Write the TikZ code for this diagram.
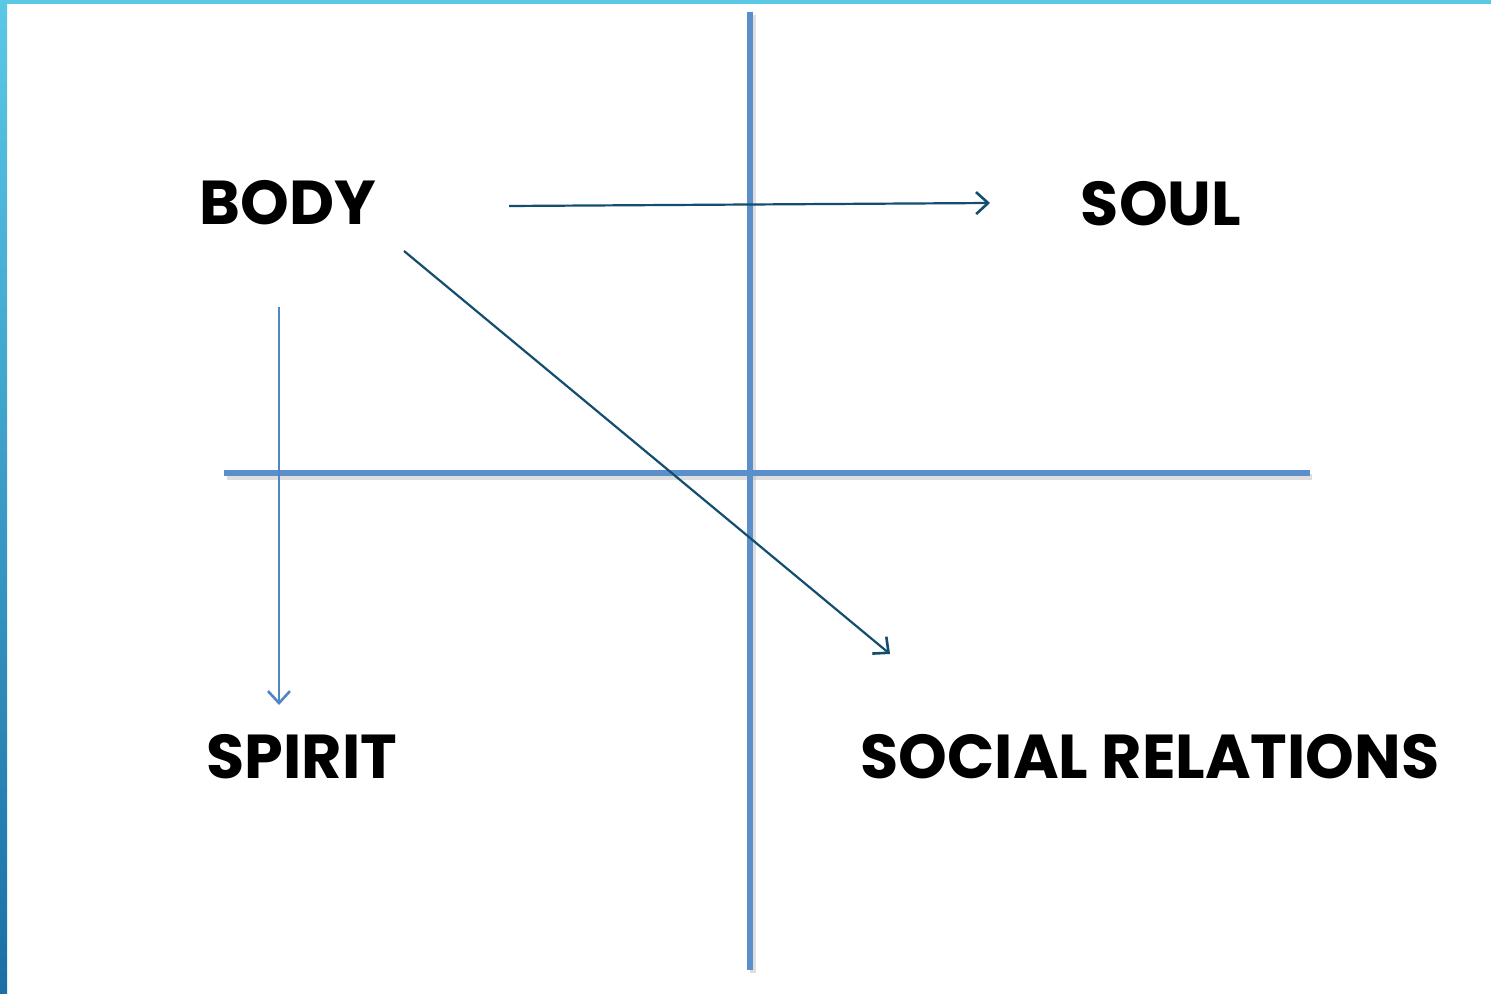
\documentclass[tikz,border=0pt]{standalone}
\usepackage{fontspec}
\setmainfont{Poppins}
\usetikzlibrary{arrows.meta}
\definecolor{axisblue}{HTML}{5B8FCB}
\definecolor{darkarrow}{HTML}{144E6E}
\definecolor{lightarrow}{HTML}{4F86C6}
\definecolor{bartop}{HTML}{5BC8E6}
\definecolor{barbot}{HTML}{1A6FA5}
\tikzset{
  label text/.style={font=\fontsize{31}{34}\selectfont\bfseries, text=black, inner sep=0pt},
  axisline/.style={draw=axisblue, line width=3pt},
  axisshadow/.style={draw=black!25, line width=3pt, opacity=0.5},
  darkconn/.style={draw=darkarrow, line width=1.1pt, -{Straight Barb[length=6pt,width=11pt,line width=1.3pt]}},
  lightconn/.style={draw=lightarrow, line width=1.1pt, -{Straight Barb[length=6pt,width=11pt,line width=1.3pt]}}
}
\begin{document}
\begin{tikzpicture}[x=0.5pt,y=-0.5pt]
\useasboundingbox (0,0) rectangle (1491,994);
\fill[white] (0,0) rectangle (1491,994);
% frame bars
\shade[top color=bartop, bottom color=barbot] (0,0) rectangle (7,994);
\fill[bartop] (0,0) rectangle (1491,4);
% axes shadows
\draw[axisshadow] (753,15) -- (753,973);
\draw[axisshadow] (227,477) -- (1312,477);
% axes
\coordinate (vtop) at (750,12);
\coordinate (vbot) at (750,970);
\coordinate (hleft) at (224,473);
\coordinate (hright) at (1310,473);
\draw[axisline] (vtop) -- (vbot);
\draw[axisline] (hleft) -- (hright);
% labels
\node[label text] (body) at (288,203) {BODY};
\node[label text] (soul) at (1161,204) {SOUL};
\node[label text] (spirit) at (302,757) {SPIRIT};
\node[label text] (social) at (1150,757) {SOCIAL RELATIONS};
% arrow endpoints
\coordinate (a1s) at (509,206);
\coordinate (a1e) at (990,203);
\coordinate (a2s) at (279,307);
\coordinate (a2e) at (279,705);
\coordinate (a3s) at (404,251);
\coordinate (a3e) at (890,654);
\draw[darkconn] (a1s) -- (a1e);
\draw[lightconn] (a2s) -- (a2e);
\draw[darkconn] (a3s) -- (a3e);
\end{tikzpicture}
\end{document}
